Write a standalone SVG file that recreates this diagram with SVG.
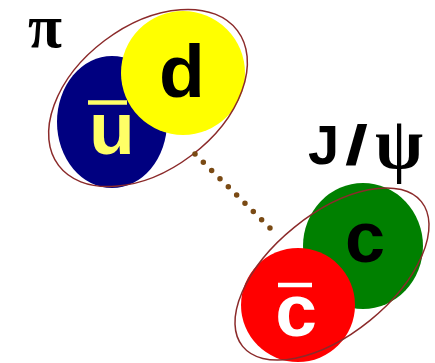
<svg xmlns="http://www.w3.org/2000/svg" width="435" height="363" viewBox="0 0 435 363">
  <style>
    .hull { fill: none; stroke: #8b2a2a; stroke-width: 1.5; }
    .q { font-family: "Liberation Sans", Arial, sans-serif; font-weight: bold; text-anchor: middle; }
    .sans { font-family: "Liberation Sans", Arial, sans-serif; font-weight: bold; }
    .greek { font-family: "Liberation Serif", "Times New Roman", serif; font-weight: bold; }
    .bar { stroke-width: 4.5; }
  </style>
  <rect width="435" height="363" fill="#ffffff"/>

  <g id="pion">
    <ellipse cx="112" cy="122" rx="55" ry="66" fill="#000080"/>
    <circle cx="183" cy="73" r="62" fill="#ffff00"/>
    <ellipse class="hull" cx="148" cy="98" rx="112" ry="72" transform="rotate(-37 148 98)"/>
    <text class="q" x="182" y="97" font-size="75" fill="#000">d</text>
    <text class="q" x="112" y="154" font-size="75" fill="#ffff66">u</text>
    <line class="bar" x1="88" y1="102.5" x2="127" y2="102.5" stroke="#ffff66"/>
    <text class="greek" x="28" y="47" font-size="62" fill="#000">π</text>
  </g>

  <g id="jpsi">
    <ellipse cx="363" cy="246" rx="60" ry="63" fill="#008000"/>
    <circle cx="298" cy="305" r="57" fill="#ff0000"/>
    <ellipse class="hull" cx="332" cy="274" rx="115" ry="60" transform="rotate(-39 332 274)"/>
    <text class="q" x="365" y="262" font-size="72" fill="#000">c</text>
    <text class="q" x="296" y="336" font-size="75" fill="#ffffff">c</text>
    <line class="bar" x1="278" y1="285" x2="312" y2="285" stroke="#ffffff"/>
    <text class="sans" x="308" y="164" font-size="56" fill="#000">J<tspan x="345" textLength="23" lengthAdjust="spacingAndGlyphs">/</tspan><tspan class="greek" x="375" y="168" font-size="74" textLength="48" lengthAdjust="spacingAndGlyphs">ψ</tspan></text>
  </g>

  <g id="connectors">
    <line x1="195" y1="154" x2="270" y2="228" stroke="#7a4a14" stroke-width="5.5" stroke-linecap="round" stroke-dasharray="0 11.7"/>
  </g>
</svg>
